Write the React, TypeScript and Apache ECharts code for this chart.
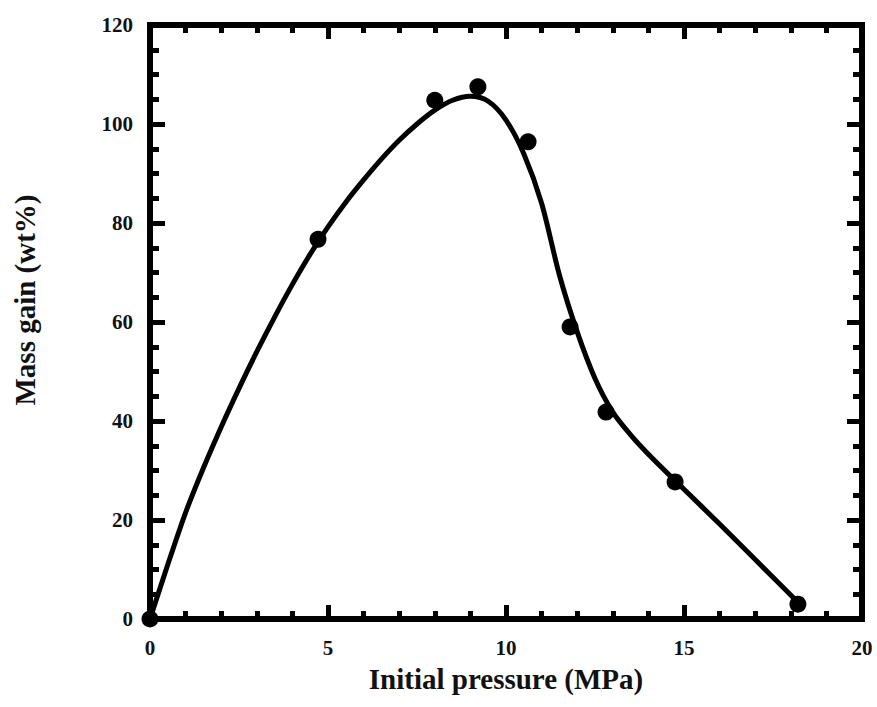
import React, { useEffect, useRef } from "react";
import * as echarts from "echarts";

const pointX = [0, 4.72, 8.0, 9.21, 10.62, 11.8, 12.81, 14.75, 18.2];
const pointY = [0, 76.7, 104.8, 107.5, 96.4, 59, 41.8, 27.7, 3.0];

const curveX = [0, 0.5, 1, 1.5, 2, 2.5, 3, 3.5, 4, 4.5, 5, 5.5, 6, 6.5, 7, 7.5, 8, 8.5, 9, 9.5, 10, 10.5, 11, 11.5, 12, 12.5, 13, 13.5, 14, 15, 16, 17, 18.2];
const curveY = [0, 11, 21.5, 30.5, 38.8, 46.6, 54, 61, 67.6, 73.7, 79.2, 84.2, 88.7, 92.9, 96.7, 100, 102.8, 104.8, 105.6, 104.6, 100.8, 94, 84, 69.5, 58, 48.6, 41.8, 37.2, 33.3, 26.2, 19.2, 12, 3.4];

const xTitle = "Initial pressure (MPa)";
const yTitle = "Mass gain (wt%)";

const FONT = "Liberation Serif, Times New Roman, serif";

export default function App() {
  const ref = useRef<HTMLDivElement>(null);
  useEffect(() => {
    if (!ref.current) return;
    const chart = echarts.init(ref.current, null, { renderer: "svg" });
    const labelStyle = {
      fontFamily: FONT,
      fontWeight: "bold" as const,
      fontSize: 21,
      color: "#111",
    };
    const lineStyle = { color: "#000", width: 6, cap: "square" as const };
    const tickStyle = { color: "#000", width: 5, type: "solid" as const, cap: "butt" as const };
    const xBase = {
      type: "value" as const,
      min: 0,
      max: 20,
      interval: 5,
      splitLine: { show: false },
      axisLine: { show: true, onZero: false, lineStyle },
      axisTick: { show: true, inside: true, length: 14, lineStyle: tickStyle },
      minorTick: { show: true, splitNumber: 5, length: 8, lineStyle: tickStyle },
    };
    const yBase = {
      type: "value" as const,
      min: 0,
      max: 120,
      interval: 20,
      splitLine: { show: false },
      axisLine: { show: true, onZero: false, lineStyle },
      axisTick: { show: true, inside: true, length: 15, lineStyle: tickStyle },
      minorTick: { show: true, splitNumber: 4, length: 9, lineStyle: tickStyle },
    };
    chart.setOption({
      animation: false,
      backgroundColor: "#fff",
      grid: { left: 150, right: 15, top: 25, bottom: 88, containLabel: false },
      xAxis: [
        {
          ...xBase,
          position: "bottom",
          name: xTitle,
          nameLocation: "middle",
          nameGap: 45,
          nameTextStyle: { fontFamily: FONT, fontWeight: "bold", fontSize: 29, color: "#111" },
          axisLabel: { ...labelStyle, margin: 18 },
        },
        { ...xBase, position: "top", axisLabel: { show: false } },
      ],
      yAxis: [
        { ...yBase, position: "left", axisLabel: { ...labelStyle, margin: 17 } },
        { ...yBase, position: "right", axisLabel: { show: false } },
      ],
      graphic: [
        {
          type: "text",
          x: 25,
          y: 300,
          rotation: Math.PI / 2,
          style: {
            text: yTitle,
            font: `bold 29px ${FONT}`,
            fill: "#111",
            align: "center",
            verticalAlign: "middle",
          },
        },
      ],
      series: [
        {
          type: "line",
          data: curveX.map((x, i) => [x, curveY[i]]),
          smooth: 0.3,
          showSymbol: false,
          symbol: "none",
          clip: false,
          lineStyle: { color: "#000", width: 5 },
          z: 3,
        },
        {
          type: "scatter",
          data: pointX.map((x, i) => [x, pointY[i]]),
          symbol: "circle",
          symbolSize: 17,
          clip: false,
          itemStyle: { color: "#000", opacity: 1 },
          z: 4,
        },
      ],
    });
    return () => chart.dispose();
  }, []);
  return (
    <div
      ref={ref}
      style={{ position: "fixed", left: 0, top: 0, width: 877, height: 707 }}
    />
  );
}
